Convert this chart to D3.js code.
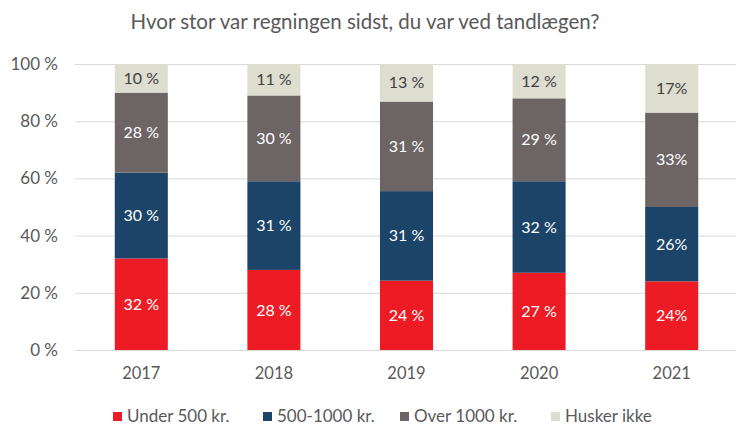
<!DOCTYPE html>
<html>
<head>
<meta charset="utf-8">
<script src="https://cdn.jsdelivr.net/npm/d3@7"></script>
<style>
  body { margin: 0; background: #fff; }
  text { font-family: Lato, "Open Sans", sans-serif; }
</style>
</head>
<body>
<div id="mainContainer"></div>
<script>
var years = ["2017", "2018", "2019", "2020", "2021"];
var seriesNames = ["Under 500 kr.", "500-1000 kr.", "Over 1000 kr.", "Husker ikke"];
var under500 = [32, 28, 24, 27, 24];
var mid500to1000 = [30, 31, 31, 32, 26];
var over1000 = [28, 30, 31, 29, 33];
var huskerIkke = [10, 11, 13, 12, 17];
// 2021 labels have no space before %
var labelSpace = [true, true, true, true, false];
var yTicks = [0, 0.2, 0.4, 0.6, 0.8, 1];

var colors = ["#ED1C24", "#1B4468", "#6D6565", "#DDDDD0"];
var labelColors = ["#ffffff", "#ffffff", "#ffffff", "#404040"];
var keys = ["a", "b", "c", "d"];

var rows = years.map(function(y, i) {
    return { year: y, a: under500[i], b: mid500to1000[i], c: over1000[i], d: huskerIkke[i], space: labelSpace[i] };
});

var W = 736, H = 426;
var margin = { top: 64, right: -2, bottom: 76, left: 75 },
    width = W - margin.left - margin.right,
    height = H - margin.top - margin.bottom;

var svg = d3.select('#mainContainer').append('svg')
    .attr('width', W)
    .attr('height', H);

svg.append("text")
    .attr("x", 365)
    .attr("y", 29)
    .attr("text-anchor", "middle")
    .attr("fill", "#595959")
    .attr("font-size", "20.5px")
    .text("Hvor stor var regningen sidst, du var ved tandlægen?");

var g = svg.append('g')
    .attr('transform', 'translate(' + margin.left + ',' + margin.top + ')');

var xscale = d3.scaleBand()
    .domain(years)
    .range([0, width])
    .paddingInner(0.6)
    .paddingOuter(0.3);

var yscale = d3.scaleLinear()
    .domain([0, 1])
    .range([height, 0]);

// gridlines
g.append("g")
    .selectAll("line")
    .data(yTicks)
    .enter()
    .append("line")
    .attr("x1", 0)
    .attr("x2", width)
    .attr("y1", function(d) { return yscale(d) + 0.5; })
    .attr("y2", function(d) { return yscale(d) + 0.5; })
    .attr("stroke", "#d9d9d9")
    .attr("stroke-width", 1);

// y axis labels
var yAxis = g.append("g")
    .call(d3.axisLeft(yscale).tickValues(yTicks).tickSize(0).tickPadding(17)
        .tickFormat(function(d) { return Math.round(d * 100) + " %"; }));
yAxis.select(".domain").remove();
yAxis.selectAll("text")
    .attr("fill", "#595959")
    .attr("font-size", "17px")
    .attr("font-family", "Lato, sans-serif");

// x axis labels
var xAxis = g.append("g")
    .attr("transform", "translate(0," + height + ")")
    .call(d3.axisBottom(xscale).tickSize(0).tickPadding(17));
xAxis.select(".domain").remove();
xAxis.selectAll("text")
    .attr("fill", "#595959")
    .attr("font-size", "16.5px")
    .attr("font-family", "Lato, sans-serif");

var stack = d3.stack().keys(keys).offset(d3.stackOffsetExpand);
var stacked = stack(rows);

var layers = g.append("g")
    .selectAll("g")
    .data(stacked)
    .enter()
    .append("g")
    .attr("fill", function(d, i) { return colors[i]; });

layers.selectAll("rect")
    .data(function(d) { return d; })
    .enter()
    .append("rect")
    .attr("x", function(d) { return xscale(d.data.year); })
    .attr("width", xscale.bandwidth())
    .attr("y", function(d) { return yscale(d[1]); })
    .attr("height", function(d) { return yscale(d[0]) - yscale(d[1]); });

stacked.forEach(function(layer, li) {
    g.append("g")
        .selectAll("text")
        .data(layer)
        .enter()
        .append("text")
        .attr("x", function(d) { return xscale(d.data.year) + xscale.bandwidth() / 2; })
        .attr("y", function(d) { return yscale((d[0] + d[1]) / 2); })
        .attr("dy", "0.35em")
        .attr("text-anchor", "middle")
        .attr("fill", labelColors[li])
        .attr("font-size", "16px")
        .text(function(d) {
            var v = d.data[keys[li]];
            return v + (d.data.space ? " %" : "%");
        });
});

// legend
var legendX = [113, 263, 400, 551];
var legend = svg.append("g")
    .selectAll("g")
    .data(seriesNames)
    .enter()
    .append("g")
    .attr("transform", function(d, i) { return "translate(" + legendX[i] + ",416)"; });

legend.append("rect")
    .attr("x", 0)
    .attr("y", -4)
    .attr("width", 9)
    .attr("height", 9)
    .attr("fill", function(d, i) { return colors[i]; });

legend.append("text")
    .attr("x", 14)
    .attr("y", 0)
    .attr("dy", "0.35em")
    .attr("fill", "#595959")
    .attr("font-size", "17px")
    .text(function(d) { return d; });
</script>
</body>
</html>
